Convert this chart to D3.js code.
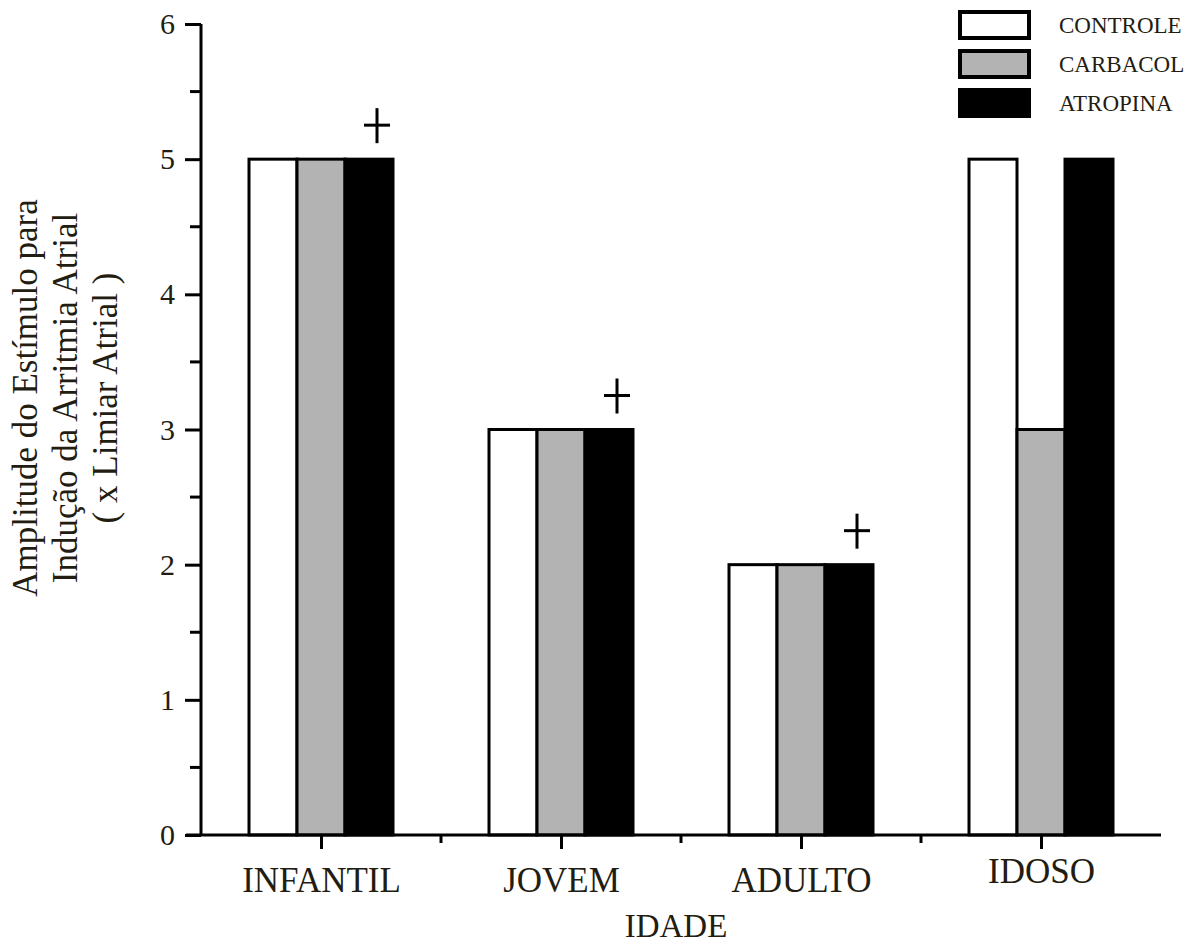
<!DOCTYPE html>
<html>
<head>
<meta charset="utf-8">
<script src="https://cdn.jsdelivr.net/npm/d3@7/dist/d3.min.js"></script>
<style>
  html, body { margin: 0; padding: 0; background: #fff; }
  svg { display: block; }
  text { font-family: "Liberation Serif", "Times New Roman", serif; fill: #231c10; }
</style>
</head>
<body>
<svg id="chart" width="1202" height="944"></svg>
<script>
// Age groups on the x axis
const categories = ["INFANTIL", "JOVEM", "ADULTO", "IDOSO"];
// Treatment series
const series = ["CONTROLE", "CARBACOL", "ATROPINA"];
// Stimulus amplitude (x atrial threshold) per age group
const controle = [5, 3, 2, 5];
const carbacol = [5, 3, 2, 3];
const atropina = [5, 3, 2, 5];
// Groups marked with "+" above the atropine bar
const marked = ["INFANTIL", "JOVEM", "ADULTO"];
const yTicks = [0, 1, 2, 3, 4, 5, 6];
const yMinorTicks = [0.5, 1.5, 2.5, 3.5, 4.5, 5.5];

const values = { CONTROLE: controle, CARBACOL: carbacol, ATROPINA: atropina };
const fills = { CONTROLE: "#ffffff", CARBACOL: "#b3b3b3", ATROPINA: "#000000" };

const svg = d3.select("#chart");

const x = d3.scalePoint().domain(categories).range([201, 1161]).padding(0.5);
const xInner = d3.scaleBand().domain(series).range([-72, 72]);
const y = d3.scaleLinear().domain([0, 6]).range([835, 24]);

// Bars
const rows = [];
categories.forEach((c, i) => series.forEach(s => rows.push({ c, s, v: values[s][i] })));

svg.append("g").selectAll("rect").data(rows).join("rect")
  .attr("x", d => x(d.c) + xInner(d.s))
  .attr("y", d => y(d.v))
  .attr("width", xInner.bandwidth())
  .attr("height", d => y(0) - y(d.v))
  .attr("fill", d => fills[d.s])
  .attr("stroke", "#000")
  .attr("stroke-width", 3);

// Significance markers
const plus = svg.append("g");
marked.forEach(c => {
  const i = categories.indexOf(c);
  const cx = x(c) + xInner("ATROPINA") + xInner.bandwidth() / 2 + 8;
  const cy = y(atropina[i]) - 34;
  plus.append("line").attr("x1", cx - 13).attr("x2", cx + 13).attr("y1", cy).attr("y2", cy)
    .attr("stroke", "#000").attr("stroke-width", 3);
  plus.append("line").attr("x1", cx).attr("x2", cx).attr("y1", cy - 17).attr("y2", cy + 18)
    .attr("stroke", "#000").attr("stroke-width", 3);
});

// Y axis
const yAxis = svg.append("g").attr("transform", "translate(201,0)");
yAxis.call(d3.axisLeft(y).tickValues(yTicks).tickFormat(d3.format("d")).tickSize(16).tickPadding(10))
  .call(g => g.select(".domain").attr("stroke-width", 3).attr("d", `M0,${y(6)}V${y(0) + 1}`));
yAxis.selectAll(".tick line").attr("stroke-width", 3);
yAxis.selectAll(".tick text").attr("font-size", 30).attr("font-family", "Liberation Serif").attr("fill", "#231c10");
yAxis.append("g").selectAll("line").data(yMinorTicks).join("line")
  .attr("x1", -11).attr("x2", 0).attr("y1", d => y(d)).attr("y2", d => y(d))
  .attr("stroke", "#000").attr("stroke-width", 3);

// X axis
const xAxis = svg.append("g").attr("transform", `translate(0,${y(0)})`);
xAxis.call(d3.axisBottom(x).tickSize(14).tickPadding(24))
  .call(g => g.select(".domain").attr("stroke-width", 3).attr("d", "M186,0H1161"));
xAxis.selectAll(".tick line").attr("stroke-width", 3);
xAxis.selectAll(".tick text").attr("font-size", 35).attr("font-family", "Liberation Serif").attr("fill", "#231c10")
  .attr("dy", d => d === "IDOSO" ? "0.29em" : "0.54em");
const xMinor = categories.slice(0, -1).map((c, i) => (x(c) + x(categories[i + 1])) / 2);
xAxis.append("g").selectAll("line").data(xMinor).join("line")
  .attr("x1", d => d).attr("x2", d => d).attr("y1", 0).attr("y2", 8)
  .attr("stroke", "#000").attr("stroke-width", 3);

// Axis titles
svg.append("text").attr("x", 676).attr("y", 937).attr("text-anchor", "middle")
  .attr("font-size", 33).text("IDADE");

const yTitle = ["Amplitude do Estímulo para", "Indução da Arritmia Atrial", "( x Limiar Atrial )"];
svg.append("g").attr("transform", "translate(0,398) rotate(-90)")
  .selectAll("text").data(yTitle).join("text")
  .attr("x", 0).attr("y", (d, i) => 37 + i * 40)
  .attr("text-anchor", "middle").attr("font-size", 35).text(d => d);

// Legend
const legend = svg.append("g").selectAll("g").data(series).join("g")
  .attr("transform", (d, i) => `translate(960,${12 + i * 39})`);
legend.append("rect").attr("width", 69).attr("height", 26)
  .attr("fill", d => fills[d]).attr("stroke", "#000").attr("stroke-width", 4);
legend.append("text").attr("x", 99).attr("y", 21).attr("font-size", 23).text(d => d);
</script>
</body>
</html>
